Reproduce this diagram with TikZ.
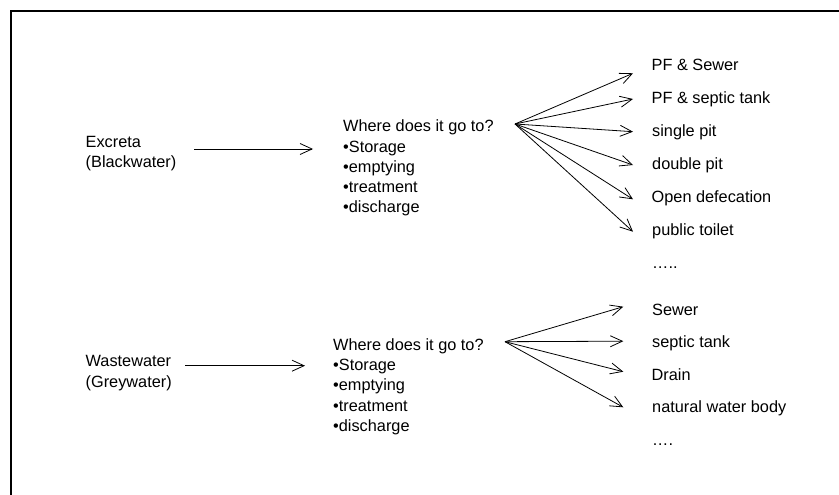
\documentclass[tikz,border=0pt]{standalone}
\usepackage{fontspec}
\setmainfont{Liberation Sans}
\usetikzlibrary{arrows.meta}
\begin{document}
\begin{tikzpicture}[x=1pt,y=-1pt,
  txt/.style={anchor=base west,inner sep=0pt,font=\fontsize{16.3}{20}\selectfont},
  conn/.style={line width=0.8pt,-{Straight Barb[length=12pt,width=11pt]}},
  frame/.style={line width=2pt}]
\useasboundingbox (0,0) rectangle (839,495);
\draw[frame] (11,495) -- (11,11) -- (839,11);

% ---------- Block 1 : Excreta ----------
\node[txt] (ex1) at (85.5,147.3) {Excreta};
\node[txt] (ex2) at (85.5,167.5) {(Blackwater)};
\coordinate (exA) at (194,149);
\coordinate (exB) at (313,149);
\draw[conn] (exA) -- (exB);

\node[txt] (wa1) at (343,131.7) {Where does it go to?};
\node[txt] (wa2) at (343,152.0) {•Storage};
\node[txt] (wa3) at (343,172.3) {•emptying};
\node[txt] (wa4) at (343,192.6) {•treatment};
\node[txt] (wa5) at (343,212.9) {•discharge};

\coordinate (fa) at (515,124);
\coordinate (ta1) at (633,73.3);
\coordinate (ta2) at (633,99);
\coordinate (ta3) at (633,131.7);
\coordinate (ta4) at (633,165);
\coordinate (ta5) at (633,199.3);
\coordinate (ta6) at (633,231.7);
\foreach \i in {1,...,6} \draw[conn] (fa) -- (ta\i);

\node[txt] (la1) at (651.5,70.7) {PF \& Sewer};
\node[txt] (la2) at (651.5,103.7) {PF \& septic tank};
\node[txt] (la3) at (652,136.7) {single pit};
\node[txt] (la4) at (652,169.7) {double pit};
\node[txt] (la5) at (651.5,202.7) {Open defecation};
\node[txt] (la6) at (652,235.7) {public toilet};
\node[txt] (la7) at (652,268.5) {…..};

% ---------- Block 2 : Wastewater ----------
\node[txt] (ww1) at (85.5,366.7) {Wastewater};
\node[txt] (ww2) at (85.5,387.7) {(Greywater)};
\coordinate (wwA) at (185,365.7);
\coordinate (wwB) at (305,365.7);
\draw[conn] (wwA) -- (wwB);

\node[txt] (wb1) at (333,350) {Where does it go to?};
\node[txt] (wb2) at (333,370.4) {•Storage};
\node[txt] (wb3) at (333,390.8) {•emptying};
\node[txt] (wb4) at (333,411.2) {•treatment};
\node[txt] (wb5) at (333,431.6) {•discharge};

\coordinate (fb) at (505,341.7);
\coordinate (tb1) at (623.3,306.7);
\coordinate (tb2) at (623.3,341.2);
\coordinate (tb3) at (623.3,371.7);
\coordinate (tb4) at (623.3,407.3);
\foreach \i in {1,...,4} \draw[conn] (fb) -- (tb\i);

\node[txt] (lb1) at (652,315.5) {Sewer};
\node[txt] (lb2) at (652,347.9) {septic tank};
\node[txt] (lb3) at (651.5,380.3) {Drain};
\node[txt] (lb4) at (652,412.7) {natural water body};
\node[txt] (lb5) at (652,445.1) {….};
\end{tikzpicture}
\end{document}
